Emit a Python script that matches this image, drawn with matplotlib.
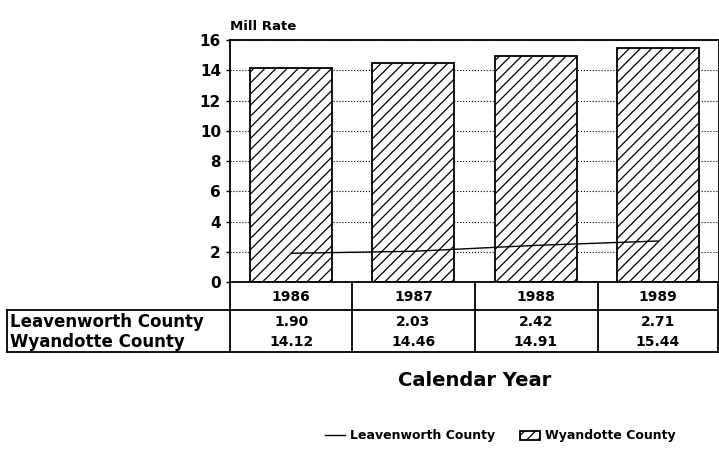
import matplotlib.pyplot as plt
import matplotlib.lines as mlines
import matplotlib.transforms as mtrans
import numpy as np

years = ["1986", "1987", "1988", "1989"]
leavenworth = [1.90, 2.03, 2.42, 2.71]
wyandotte = [14.12, 14.46, 14.91, 15.44]
row_names = ["Leavenworth County", "Wyandotte County"]

plt.rcParams['font.family'] = 'DejaVu Sans'
plt.rcParams['font.weight'] = 'bold'
plt.rcParams['hatch.linewidth'] = 0.9

W, H = 719, 463
fig = plt.figure(figsize=(W / 100, H / 100), dpi=100)
ax = fig.add_axes([230 / W, 1 - 282 / H, 489 / W, 242 / H])

x = np.arange(len(years))
ax.plot(x, leavenworth, color="black", linewidth=1.0, zorder=3,
        label="Leavenworth County")
ax.bar(x, wyandotte, width=0.67, color="white", edgecolor="black",
       hatch="///", linewidth=1.3, zorder=2, label="Wyandotte County")

ax.set_xlim(-0.5, 3.5)
ax.set_ylim(0, 16)
ax.set_yticks(range(0, 17, 2))
ax.tick_params(axis="y", labelsize=11, length=3, width=1, direction="out")
ax.set_xticks(x)
ax.tick_params(axis="x", direction="in", length=5, labelbottom=False)
ax.grid(axis="y", linestyle=":", color="black", linewidth=0.8, zorder=0)
ax.set_axisbelow(True)
for s in ax.spines.values():
    s.set_linewidth(1.3)
ax.text(0, 1.03, "Mill Rate", transform=ax.transAxes, fontsize=9.5,
        fontweight="bold", ha="left", va="bottom")

# table under the chart
def fx(px):
    return px / W

def fy(py):
    return 1 - py / H

col_edges = [230, 352, 475, 598, 718]
for cx in col_edges:
    fig.add_artist(mlines.Line2D([fx(cx), fx(cx)], [fy(282), fy(352)],
                                 color="black", lw=1.3))
fig.add_artist(mlines.Line2D([fx(7), fx(7)], [fy(310), fy(352)],
                             color="black", lw=1.3))
fig.add_artist(mlines.Line2D([fx(7), fx(718)], [fy(310), fy(310)],
                             color="black", lw=1.3))
fig.add_artist(mlines.Line2D([fx(7), fx(718)], [fy(352), fy(352)],
                             color="black", lw=1.3))

tr = mtrans.blended_transform_factory(ax.transData, fig.transFigure)
for i, yr in enumerate(years):
    ax.text(i, fy(297), yr, transform=tr, ha="center", va="center",
            fontsize=10, clip_on=False)
    ax.text(i, fy(322), f"{leavenworth[i]:.2f}", transform=tr, ha="center",
            va="center", fontsize=10, clip_on=False)
    ax.text(i, fy(342), f"{wyandotte[i]:.2f}", transform=tr, ha="center",
            va="center", fontsize=10, clip_on=False)
fig.text(fx(10), fy(322), row_names[0], ha="left", va="center", fontsize=12)
fig.text(fx(10), fy(342), row_names[1], ha="left", va="center", fontsize=12)

fig.text(fx(475), fy(381), "Calendar Year", ha="center", va="center",
         fontsize=14, fontweight="bold")

handles, labels = ax.get_legend_handles_labels()
fig.legend(handles, labels, loc="center", ncol=2,
           bbox_to_anchor=(fx(500), fy(436)), frameon=False,
           handlelength=1.6, handletextpad=0.4, columnspacing=2.0,
           prop={"weight": "bold", "size": 9})

fig.savefig("out.png", dpi=100)
